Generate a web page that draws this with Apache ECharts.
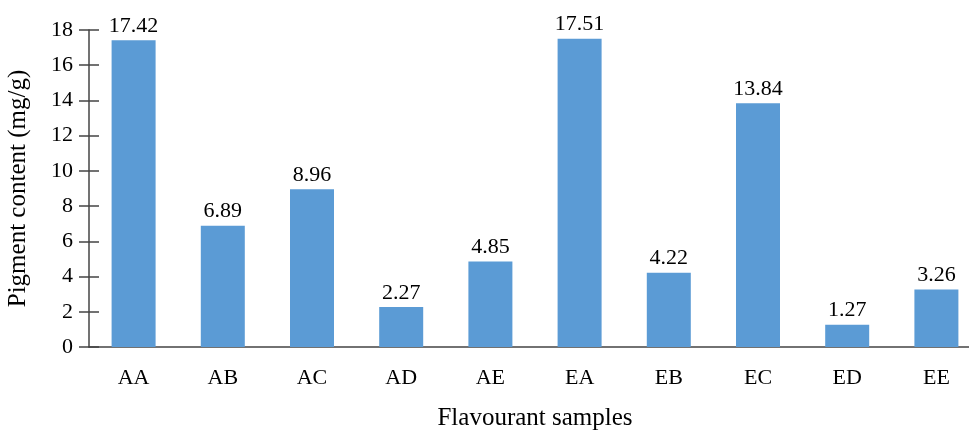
<!DOCTYPE html>
<html><head><meta charset="utf-8">
<script src="https://cdn.jsdelivr.net/npm/echarts@6/dist/echarts.min.js"></script>
<style>html,body{margin:0;padding:0;background:#fff}#c{width:969px;height:431px}</style>
</head><body><div id="c"></div>
<script>
const categories = ['AA','AB','AC','AD','AE','EA','EB','EC','ED','EE'];
const values = [17.42, 6.89, 8.96, 2.27, 4.85, 17.51, 4.22, 13.84, 1.27, 3.26];
const yTitle = 'Pigment content (mg/g)';
const xTitle = 'Flavourant samples';
const font = 'Liberation Serif';
const chart = echarts.init(document.getElementById('c'));
chart.setOption({
  animation: false,
  grid: {left: 89, top: 30, width: 892, height: 317, containLabel: false, outerBoundsMode: 'none'},
  xAxis: {
    type: 'category', data: categories,
    axisTick: {show: false},
    axisLine: {lineStyle: {color: '#444', width: 1.5}},
    axisLabel: {fontFamily: font, fontSize: 22, color: '#000', margin: 20},
    name: xTitle, nameLocation: 'middle', nameGap: 59,
    nameTextStyle: {fontFamily: font, fontSize: 25, color: '#000'}
  },
  yAxis: [{
    type: 'value', min: 0, max: 18, interval: 2,
    axisLine: {show: true, lineStyle: {color: '#444', width: 1.5}},
    axisTick: {show: true, length: 10, lineStyle: {color: '#444', width: 1.5}},
    splitLine: {show: false},
    axisLabel: {fontFamily: font, fontSize: 22, color: '#000', margin: 16},
    name: yTitle, nameLocation: 'middle', nameGap: 58,
    nameTextStyle: {fontFamily: font, fontSize: 25, color: '#000'}
  }, {
    type: 'value', min: 0, max: 18, interval: 2, position: 'left',
    axisLine: {show: false},
    axisTick: {show: true, inside: true, length: 10, lineStyle: {color: '#444', width: 1.5}},
    splitLine: {show: false},
    axisLabel: {show: false}
  }],
  series: [{
    type: 'bar', data: values, barWidth: 44, yAxisIndex: 0,
    itemStyle: {color: '#5B9BD5'},
    label: {show: true, position: 'top', distance: 3, fontFamily: font, fontSize: 22, color: '#000',
      formatter: p => p.value.toFixed(2)}
  }]
});
</script></body></html>
